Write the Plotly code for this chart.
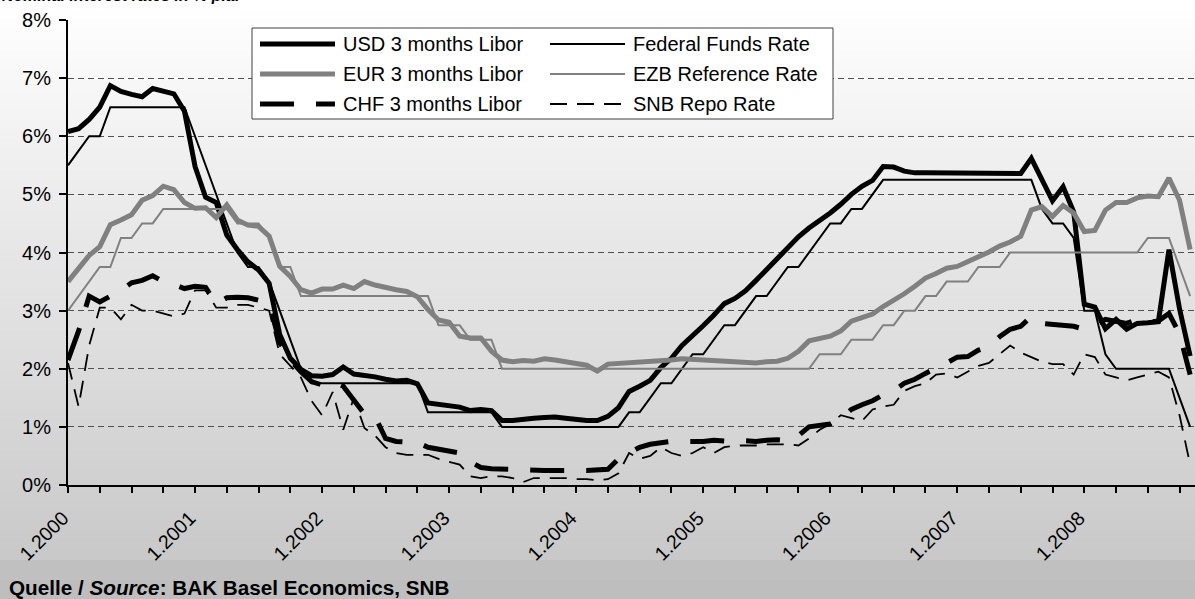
import plotly.graph_objects as go

# Monthly end-of-month rates in % p.a., January 2000 to November 2008
usd_libor = [
    6.08, 6.13, 6.29, 6.50, 6.87, 6.77, 6.72, 6.68, 6.82, 6.77, 6.73, 6.43,
    5.48, 4.95, 4.86, 4.30, 4.05, 3.84, 3.70, 3.47, 2.59, 2.18, 1.99, 1.88,
    1.87, 1.90, 2.03, 1.91, 1.89, 1.86, 1.82, 1.79, 1.80, 1.74, 1.41, 1.38,
    1.35, 1.34, 1.28, 1.30, 1.28, 1.11, 1.11, 1.14, 1.15, 1.16, 1.17, 1.15,
    1.12, 1.11, 1.11, 1.18, 1.33, 1.61, 1.70, 1.80, 2.02, 2.18, 2.40, 2.56,
    2.74, 2.92, 3.12, 3.21, 3.34, 3.52, 3.71, 3.87, 4.07, 4.27, 4.42, 4.54,
    4.68, 4.83, 5.00, 5.14, 5.24, 5.48, 5.47, 5.40, 5.37, 5.37, 5.37, 5.36,
    5.36, 5.35, 5.35, 5.36, 5.36, 5.36, 5.36, 5.62, 5.23, 4.89, 5.13, 4.70,
    3.11, 3.06, 2.69, 2.85, 2.68, 2.78, 2.79, 2.81, 4.05, 3.03, 2.22,
]
fed_funds = [
    5.50, 5.75, 6.00, 6.00, 6.50, 6.50, 6.50, 6.50, 6.50, 6.50, 6.50, 6.50,
    6.00, 5.50, 5.00, 4.50, 4.00, 3.75, 3.75, 3.50, 3.00, 2.50, 2.00, 1.75,
    1.75, 1.75, 1.75, 1.75, 1.75, 1.75, 1.75, 1.75, 1.75, 1.75, 1.25, 1.25,
    1.25, 1.25, 1.25, 1.25, 1.25, 1.00, 1.00, 1.00, 1.00, 1.00, 1.00, 1.00,
    1.00, 1.00, 1.00, 1.00, 1.00, 1.25, 1.25, 1.50, 1.75, 1.75, 2.00, 2.25,
    2.25, 2.50, 2.75, 2.75, 3.00, 3.25, 3.25, 3.50, 3.75, 3.75, 4.00, 4.25,
    4.50, 4.50, 4.75, 4.75, 5.00, 5.25, 5.25, 5.25, 5.25, 5.25, 5.25, 5.25,
    5.25, 5.25, 5.25, 5.25, 5.25, 5.25, 5.25, 5.25, 4.75, 4.50, 4.50, 4.25,
    3.00, 3.00, 2.25, 2.00, 2.00, 2.00, 2.00, 2.00, 2.00, 1.50, 1.00,
]
eur_libor = [
    3.50, 3.72, 3.95, 4.10, 4.48, 4.56, 4.65, 4.90, 4.98, 5.14, 5.08, 4.86,
    4.76, 4.77, 4.60, 4.82, 4.56, 4.47, 4.45, 4.28, 3.76, 3.59, 3.36, 3.30,
    3.37, 3.37, 3.44, 3.38, 3.50, 3.44, 3.39, 3.36, 3.33, 3.24, 3.02, 2.84,
    2.80, 2.56, 2.53, 2.53, 2.30, 2.15, 2.12, 2.14, 2.13, 2.17, 2.15, 2.13,
    2.09, 2.06, 1.96, 2.08, 2.09, 2.11, 2.11, 2.11, 2.13, 2.15, 2.17, 2.16,
    2.14, 2.14, 2.14, 2.12, 2.11, 2.10, 2.12, 2.13, 2.18, 2.30, 2.48, 2.52,
    2.56, 2.65, 2.82, 2.88, 2.94, 3.07, 3.17, 3.29, 3.42, 3.56, 3.64, 3.73,
    3.76, 3.84, 3.92, 4.01, 4.11, 4.18, 4.28, 4.73, 4.79, 4.62, 4.81, 4.68,
    4.36, 4.38, 4.73, 4.86, 4.86, 4.94, 4.97, 4.96, 5.28, 4.90, 4.05,
]
ezb_rate = [
    3.00, 3.25, 3.50, 3.75, 3.75, 4.25, 4.25, 4.50, 4.50, 4.75, 4.75, 4.75,
    4.75, 4.75, 4.75, 4.75, 4.50, 4.50, 4.50, 4.25, 3.75, 3.75, 3.25, 3.25,
    3.25, 3.25, 3.25, 3.25, 3.25, 3.25, 3.25, 3.25, 3.25, 3.25, 3.25, 2.75,
    2.75, 2.75, 2.50, 2.50, 2.50, 2.00, 2.00, 2.00, 2.00, 2.00, 2.00, 2.00,
    2.00, 2.00, 2.00, 2.00, 2.00, 2.00, 2.00, 2.00, 2.00, 2.00, 2.00, 2.00,
    2.00, 2.00, 2.00, 2.00, 2.00, 2.00, 2.00, 2.00, 2.00, 2.00, 2.00, 2.25,
    2.25, 2.25, 2.50, 2.50, 2.50, 2.75, 2.75, 3.00, 3.00, 3.25, 3.25, 3.50,
    3.50, 3.50, 3.75, 3.75, 3.75, 4.00, 4.00, 4.00, 4.00, 4.00, 4.00, 4.00,
    4.00, 4.00, 4.00, 4.00, 4.00, 4.00, 4.25, 4.25, 4.25, 3.75, 3.25,
]
chf_libor = [
    2.15, 2.65, 3.25, 3.15, 3.25, 3.35, 3.48, 3.52, 3.60, 3.50, 3.45, 3.38,
    3.42, 3.40, 3.12, 3.22, 3.23, 3.22, 3.18, 3.12, 2.45, 2.15, 1.95, 1.78,
    1.72, 1.78, 1.70, 1.45, 1.22, 1.18, 0.80, 0.75, 0.73, 0.73, 0.65, 0.62,
    0.60, 0.55, 0.40, 0.30, 0.28, 0.27, 0.28, 0.26, 0.26, 0.25, 0.25, 0.26,
    0.25, 0.25, 0.26, 0.27, 0.45, 0.55, 0.65, 0.70, 0.73, 0.75, 0.75, 0.74,
    0.75, 0.77, 0.75, 0.74, 0.76, 0.75, 0.77, 0.78, 0.76, 0.85, 1.00, 1.03,
    1.05, 1.15, 1.30, 1.38, 1.45, 1.55, 1.62, 1.75, 1.82, 1.92, 2.00, 2.10,
    2.20, 2.21, 2.32, 2.38, 2.55, 2.68, 2.73, 2.90, 2.78, 2.76, 2.75, 2.73,
    2.68, 2.75, 2.85, 2.82, 2.78, 2.85, 2.80, 2.82, 2.95, 2.60, 1.90,
]
snb_repo = [
    2.10, 1.35, 2.40, 3.05, 3.05, 2.85, 3.10, 3.00, 3.00, 2.95, 2.90, 2.95,
    3.35, 3.35, 3.05, 3.05, 3.10, 3.10, 3.05, 3.00, 2.25, 2.05, 1.85, 1.45,
    1.20, 1.60, 0.95, 1.50, 0.98, 0.85, 0.65, 0.55, 0.52, 0.52, 0.52, 0.45,
    0.40, 0.35, 0.15, 0.12, 0.15, 0.15, 0.12, 0.05, 0.12, 0.12, 0.12, 0.12,
    0.10, 0.10, 0.08, 0.10, 0.20, 0.55, 0.45, 0.50, 0.65, 0.55, 0.50, 0.55,
    0.65, 0.55, 0.65, 0.68, 0.68, 0.68, 0.70, 0.70, 0.70, 0.68, 0.80, 0.95,
    1.05, 1.20, 1.15, 1.10, 1.30, 1.35, 1.38, 1.62, 1.70, 1.75, 1.90, 1.92,
    1.85, 1.95, 2.05, 2.10, 2.25, 2.40, 2.28, 2.20, 2.12, 2.08, 2.08, 1.90,
    2.25, 2.20, 1.90, 1.85, 1.80, 1.85, 1.90, 1.95, 1.85, 1.20, 0.35,
]

year_ticks = ["1.2000", "1.2001", "1.2002", "1.2003", "1.2004",
              "1.2005", "1.2006", "1.2007", "1.2008"]
pct_ticks = ["0%", "1%", "2%", "3%", "4%", "5%", "6%", "7%", "8%"]

series_names = ["USD 3 months Libor", "Federal Funds Rate",
                "EUR 3 months Libor", "EZB Reference Rate",
                "CHF 3 months Libor", "SNB Repo Rate"]

FONT = "Liberation Sans, Arial, sans-serif"
GREY = "#808080"
W, H = 1195, 599
ML, MR, MT, MB = 68, 0, 20, 114
PW, PH = W - ML - MR, H - MT - MB

# series styles: colour, width, dash
styles = [
    ("black", 5, "solid"),
    ("black", 2, "solid"),
    (GREY, 5, "solid"),
    (GREY, 2, "solid"),
    ("black", 5, "34px,22px"),
    ("black", 1.8, "17px,10px"),
]
values = [usd_libor, fed_funds, eur_libor, ezb_rate, chf_libor, snb_repo]
month_pos = list(range(len(usd_libor)))


def px_x(px):
    return (px - ML) / PW


def px_y(py):
    return (H - MB - py) / PH


fig = go.Figure()

for name, vals, (col, wid, dash) in zip(series_names, values, styles):
    fig.add_trace(go.Scatter(
        x=month_pos, y=vals, mode="lines", name=name, showlegend=False,
        line=dict(color=col, width=wid, dash=dash),
        hovertemplate="%{y:.2f}%<extra>" + name + "</extra>",
    ))

shapes = []
# vertical background gradient, white at the top to light grey at the bottom
step = 10
for k in range(0, 60):
    y0, y1 = k * step, (k + 1) * step
    mid = (y0 + y1) / 2
    if mid < 560:
        g = round(255 - 54 * mid / 560)
    else:
        g = round(193 - 4 * (mid - 560) / 40)
    shapes.append(dict(
        type="rect", xref="paper", yref="paper", layer="below",
        x0=px_x(-5), x1=px_x(W + 5), y0=px_y(y1 + 0.5), y1=px_y(y0),
        fillcolor=f"rgb({g},{g},{g})", line=dict(width=0),
    ))

# legend box
shapes.append(dict(
    type="rect", xref="paper", yref="paper", layer="above",
    x0=px_x(252), x1=px_x(833), y0=px_y(119), y1=px_y(28),
    fillcolor="white", line=dict(color="#404040", width=1),
))

annotations = []
rows = [44, 74, 104]
cols = [(260, 335, 341), (550, 625, 631)]
for idx, (name, (col, wid, dash)) in enumerate(zip(series_names, styles)):
    r, c = idx // 2, idx % 2
    sx0, sx1, tx = cols[c]
    py = rows[r]
    shapes.append(dict(
        type="line", xref="paper", yref="paper", layer="above",
        x0=px_x(sx0), x1=px_x(sx1), y0=px_y(py), y1=px_y(py),
        line=dict(color=col, width=wid, dash=dash),
    ))
    annotations.append(dict(
        text=name, xref="paper", yref="paper", x=px_x(tx), y=px_y(py),
        xanchor="left", yanchor="middle", showarrow=False,
        font=dict(family=FONT, size=20, color="black"),
    ))

annotations.append(dict(
    text="<b>Quelle / <i>Source</i>: BAK Basel Economics, SNB</b>",
    xref="paper", yref="paper", x=px_x(7), y=px_y(601),
    xanchor="left", yanchor="bottom", showarrow=False,
    font=dict(family=FONT, size=20.7, color="black"),
))
annotations.append(dict(
    text="<b><i>Nominal interest rates in % p.a.</i></b>",
    xref="paper", yref="paper", x=px_x(0), y=px_y(6),
    xanchor="left", yanchor="bottom", showarrow=False,
    font=dict(family=FONT, size=16, color="black"),
))

fig.update_layout(
    width=W, height=H,
    margin=dict(l=ML, r=MR, t=MT, b=MB, autoexpand=False),
    paper_bgcolor="white", plot_bgcolor="rgba(0,0,0,0)",
    font=dict(family=FONT, color="black"),
    shapes=shapes, annotations=annotations,
    showlegend=False,
    xaxis=dict(
        range=[0, 106.46], showgrid=False, zeroline=False,
        showline=True, linecolor="black", linewidth=2,
        tickmode="array", tickvals=[0, 12, 24, 36, 48, 60, 72, 84, 96],
        ticktext=year_ticks, tickangle=-45,
        ticks="outside", ticklen=6, tickwidth=2, tickcolor="black",
        ticklabelstandoff=6, ticklabelshift=-5,
        tickfont=dict(family=FONT, size=19.5, color="black"),
        minor=dict(tickmode="linear", tick0=0, dtick=3, ticks="outside",
                   ticklen=6, tickwidth=2, tickcolor="black", showgrid=False),
    ),
    yaxis=dict(
        range=[0, 8], tickmode="array", tickvals=list(range(9)),
        ticktext=pct_ticks, zeroline=False,
        showline=True, linecolor="black", linewidth=2,
        ticks="outside", ticklen=7, tickwidth=2, tickcolor="black",
        ticklabelstandoff=4,
        showgrid=True, gridcolor="#505050", gridwidth=1, griddash="6px,4px",
        tickfont=dict(family=FONT, size=20, color="black"),
    ),
)

fig.write_html("out.html")
